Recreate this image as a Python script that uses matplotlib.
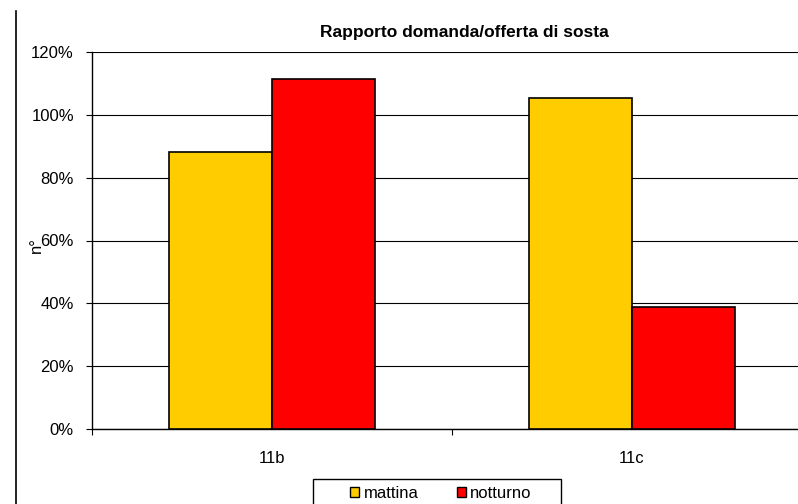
import matplotlib
matplotlib.use("Agg")
import matplotlib.pyplot as plt
from matplotlib.patches import Patch, Rectangle
from matplotlib.lines import Line2D
import numpy as np

plt.rcParams['font.family'] = ['Liberation Sans', 'DejaVu Sans']

categories = ["11b", "11c"]
series_names = ["mattina", "notturno"]
mattina = [88.1, 105.2]
notturno = [111.5, 38.9]
colors = ["#FFCC00", "#FF0000"]
yticks = [0, 20, 40, 60, 80, 100, 120]
ytick_labels = ["0%", "20%", "40%", "60%", "80%", "100%", "120%"]

W, H = 798, 504
fig = plt.figure(figsize=(W / 100, H / 100), dpi=100)
ax = fig.add_axes([92 / W, (H - 429) / H, (812 - 92) / W, (429 - 52) / H])

x = np.arange(len(categories))
bw = 0.286
ax.bar(x - bw / 2, mattina, bw, color=colors[0], edgecolor="black", linewidth=1.2, zorder=3)
ax.bar(x + bw / 2, notturno, bw, color=colors[1], edgecolor="black", linewidth=1.2, zorder=3)

ax.set_xlim(-0.5, len(categories) - 0.5)
ax.set_ylim(0, 120)
ax.set_yticks(yticks)
ax.set_yticklabels(ytick_labels, fontsize=12)
ax.yaxis.grid(True, color="black", linewidth=0.8, zorder=0)
ax.tick_params(axis="y", direction="out", length=4.5, width=0.8, pad=8.5)

ax.set_xticks(np.arange(-0.5, len(categories), 1.0))
ax.set_xticklabels([])
ax.tick_params(axis="x", which="major", direction="out", length=4.5, width=0.8)
ax.set_xticks(x, minor=True)
ax.set_xticklabels(categories, minor=True, fontsize=12)
ax.tick_params(axis="x", which="minor", length=0, pad=16)

for s in ["top", "right"]:
    ax.spines[s].set_visible(False)
for s in ["left", "bottom"]:
    ax.spines[s].set_color("black")
    ax.spines[s].set_linewidth(1.0)

fig.text(464 / W, (H - 37) / H, "Rapporto domanda/offerta di sosta", ha="center", va="baseline",
         fontsize=12.5, fontweight="bold")
fig.text(36 / W, (H - 245) / H, "n°", rotation=90, ha="center", va="center", fontsize=12)

# chart border (cropped)
fig.add_artist(Line2D([16 / W, 16 / W], [(H - 11) / H, 0], color="black", linewidth=1.2,
                      transform=fig.transFigure))

handles = [Patch(facecolor=c, edgecolor="black", linewidth=1.0) for c in colors]
fig.legend(handles, series_names, loc="center", bbox_to_anchor=(441 / W, (H - 493) / H),
           ncol=2, frameon=False, fontsize=12, handlelength=0.55, handleheight=0.55,
           handletextpad=0.25, columnspacing=2.3, borderpad=0)
fig.add_artist(Rectangle((313 / W, -0.05), (561 - 313) / W, 0.05 + (H - 478.5) / H,
                         transform=fig.transFigure, facecolor="none", edgecolor="black",
                         linewidth=1.0, clip_on=False))

fig.savefig("out.png", dpi=100)
